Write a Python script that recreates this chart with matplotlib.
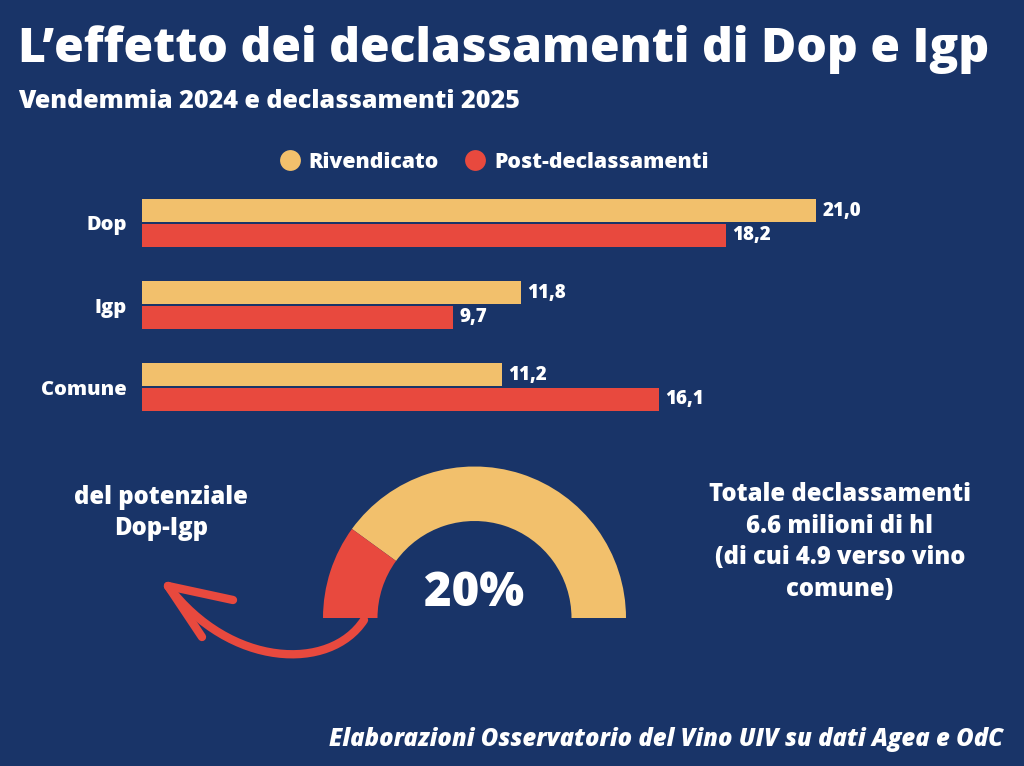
import numpy as np
import matplotlib
matplotlib.use("Agg")
import matplotlib.pyplot as plt
from matplotlib.patches import Wedge, PathPatch
from matplotlib.path import Path
from matplotlib.lines import Line2D

# data
categories = ["Dop", "Igp", "Comune"]
rivendicato = [21.0, 11.8, 11.2]
post_declassamenti = [18.2, 9.7, 16.1]
series_labels = ["Rivendicato", "Post-declassamenti"]
gauge_pct = 20

BG = "#193468"
YELLOW = "#F2C06C"
RED = "#E8493E"
FONT = "Open Sans"

plt.rcParams["font.family"] = [FONT, "DejaVu Sans"]

W, H = 1024, 766
fig = plt.figure(figsize=(W / 100, H / 100), dpi=100, facecolor=BG)


def fig_rect(x0, y0, x1, y1):
    # pixel box (top-left origin) -> figure fraction rect
    return [x0 / W, 1 - y1 / H, (x1 - x0) / W, (y1 - y0) / H]


# overlay axes in pixel coords (y up)
bg = fig.add_axes([0, 0, 1, 1])
bg.set_xlim(0, W)
bg.set_ylim(0, H)
bg.axis("off")

bg.text(18, H - 50, "L\u2019effetto dei declassamenti di Dop e Igp", color="white",
        fontsize=34.6, fontweight="heavy", va="center", ha="left")
bg.text(18, H - 102, "Vendemmia 2024 e declassamenti 2025", color="white",
        fontsize=18.1, fontweight="heavy", va="center", ha="left")

# bar chart
ax = fig.add_axes(fig_rect(142, 190, 142 + 32.1 * 25, 420))
ax.set_facecolor("none")
ax.set_xlim(0, 25)
ax.set_ylim(2.4, -0.4)
y = np.arange(len(categories))
h = 0.28
off = 0.15
b1 = ax.barh(y - off, rivendicato, height=h, color=YELLOW, label=series_labels[0])
b2 = ax.barh(y + off, post_declassamenti, height=h, color=RED, label=series_labels[1])
for bars, vals in ((b1, rivendicato), (b2, post_declassamenti)):
    for bar, v in zip(bars, vals):
        ax.text(v + 0.2, bar.get_y() + bar.get_height() / 2,
                f"{v:.1f}".replace(".", ","), color="white", fontsize=13.5,
                fontweight="heavy", va="center", ha="left")
ax.set_yticks(y)
ax.set_yticklabels(categories, color="white", fontsize=14.5, fontweight="heavy")
ax.tick_params(axis="y", length=0, pad=11)
ax.set_xticks([])
for s in ax.spines.values():
    s.set_visible(False)

handles = [Line2D([], [], marker="o", linestyle="none", markersize=15,
                  markerfacecolor=c, markeredgecolor="none") for c in (YELLOW, RED)]
leg = fig.legend(handles, series_labels, loc="center", ncol=2,
                 bbox_to_anchor=(494 / W, 1 - 162 / H), frameon=False,
                 handletextpad=0.4, columnspacing=1.2, handlelength=1.0,
                 prop={"family": FONT, "weight": "heavy", "size": 15.3})
for t in leg.get_texts():
    t.set_color("white")

# gauge
cx, cy = 474.5, H - 618
r_out, r_in = 151.5, 97
split = 180 * (1 - gauge_pct / 100)
bg.add_patch(Wedge((cx, cy), r_out, 0, split, width=r_out - r_in, color=YELLOW, lw=0))
bg.add_patch(Wedge((cx, cy), r_out, split, 180, width=r_out - r_in, color=RED, lw=0))
bg.text(cx, H - 594, f"{gauge_pct}%", color="white", fontsize=34, fontweight="heavy",
        ha="center", va="center")

# curved arrow
curve = Path([(364, H - 620), (330, H - 672), (230, H - 668), (168, H - 586)],
             [Path.MOVETO, Path.CURVE4, Path.CURVE4, Path.CURVE4])
bg.add_patch(PathPatch(curve, facecolor="none", edgecolor=RED, lw=6, capstyle="round"))
bg.plot([168, 233], [H - 586, H - 600], color=RED, lw=6, solid_capstyle="round")
bg.plot([168, 202], [H - 586, H - 637], color=RED, lw=6, solid_capstyle="round")

bg.text(161, H - 513, "del potenziale\nDop-Igp", color="white", fontsize=17.2,
        fontweight="heavy", ha="center", va="center", linespacing=1.35)
bg.text(840, H - 542, "Totale declassamenti\n6.6 milioni di hl\n(di cui 4.9 verso vino\ncomune)",
        color="white", fontsize=17.2, fontweight="heavy", ha="center", va="center",
        linespacing=1.35)

bg.text(1003, H - 740, "Elaborazioni Osservatorio del Vino UIV su dati Agea e OdC",
        color="white", fontsize=17.2, fontweight="heavy", style="italic",
        ha="right", va="center")

fig.savefig("out.png", dpi=100, facecolor=BG)
